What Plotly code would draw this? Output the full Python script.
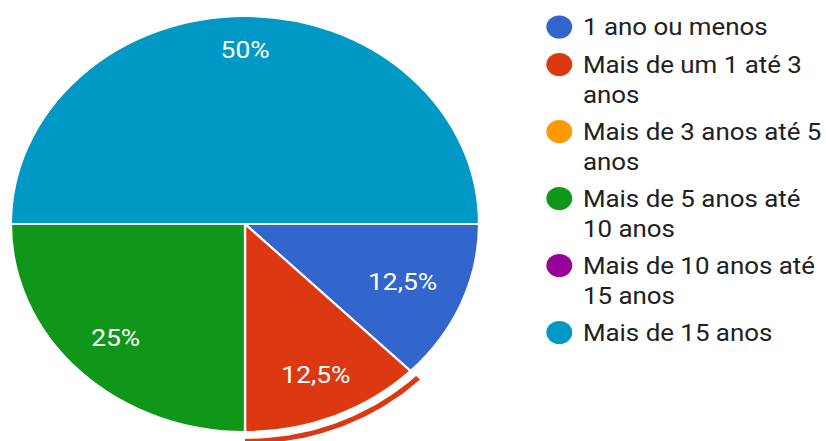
import math
import textwrap

import plotly.graph_objects as go

# Respostas: tempo de experiência
labels = [
    "1 ano ou menos",
    "Mais de um 1 até 3 anos",
    "Mais de 3 anos até 5 anos",
    "Mais de 5 anos até 10 anos",
    "Mais de 10 anos até 15 anos",
    "Mais de 15 anos",
]
counts = [1, 1, 0, 2, 0, 4]
colors = ["#3366cc", "#dc3912", "#ff9900", "#109618", "#990099", "#0099c6"]
selected = 1  # slice drawn with the selection ring

# Canvas: drawn at W x H, then stretched horizontally by SX in the page
W, H = 734, 441
SX = 826 / W
FONT = "Roboto"

# Pie geometry in pixels (y grows downwards)
cx, cy, R = 217.7, 224.0, 208.0
ring_in, ring_out = R + 7.0, R + 12.0
PIE_FONT = 23.5
LABEL_INSET = 25.0          # gap between a label's outer edge and the rim
LABEL_HALF_H = 8.5          # half the digit height of the slice labels
CHAR_EM = {",": 0.2, "%": 0.72}
LEGEND_FONT = 23

total = sum(counts)
fig = go.Figure()

fig.add_trace(go.Pie(
    values=counts,
    labels=labels,
    marker=dict(colors=colors, line=dict(color="white", width=2)),
    sort=False,
    direction="clockwise",
    rotation=90,
    textinfo="none",
    hoverinfo="label+percent",
    showlegend=False,
    domain=dict(x=[(cx - R) / W, (cx + R) / W],
                y=[(H - cy - R) / H, (H - cy + R) / H]),
))

# slice angles, clockwise from 3 o'clock
angles = []
acc = 0
for v in counts:
    a0 = 2 * math.pi * acc / total
    acc += v
    angles.append((a0, 2 * math.pi * acc / total))

# selection ring around the highlighted slice
a0, a1 = angles[selected]
n = 60
ts = [a0 + (a1 - a0) * i / n for i in range(n + 1)]
rx = [cx + ring_out * math.cos(t) for t in ts] + [cx + ring_in * math.cos(t) for t in reversed(ts)]
ry = [cy + ring_out * math.sin(t) for t in ts] + [cy + ring_in * math.sin(t) for t in reversed(ts)]
fig.add_trace(go.Scatter(
    x=rx, y=ry, mode="lines", fill="toself",
    fillcolor=colors[selected], line=dict(width=0, color=colors[selected]),
    hoverinfo="skip", showlegend=False,
))

annotations = []

# percentage labels: pushed out along the mid-angle until the text box
# sits LABEL_INSET pixels inside the rim
for v, (s0, s1) in zip(counts, angles):
    if v == 0:
        continue
    mid = (s0 + s1) / 2
    pct = f"{100 * v / total:g}%".replace(".", ",")
    half_w = sum(CHAR_EM.get(ch, 0.55) for ch in pct) * PIE_FONT / 2
    c, s = math.cos(mid), math.sin(mid)
    reach = abs(c) * half_w + abs(s) * LABEL_HALF_H
    r_lab = R - LABEL_INSET - reach
    annotations.append(dict(
        x=cx + r_lab * c, y=cy + r_lab * s,
        xref="x", yref="y", text=pct, showarrow=False,
        xanchor="center", yanchor="middle",
        font=dict(family=FONT, size=PIE_FONT, color="white"),
    ))

# legend: dots and wrapped labels
dot_x, text_x = 497.0, 516.0
line_h, item_gap = 29.5, 8.0
baseline = 35.0
dot_y = []
for lab in labels:
    lines = textwrap.wrap(lab, width=20)
    dot_y.append(baseline - 8.0)
    annotations.append(dict(
        x=text_x, y=baseline - LEGEND_FONT, xref="x", yref="y",
        text="<br>".join(lines), showarrow=False,
        xanchor="left", yanchor="top", align="left",
        font=dict(family=FONT, size=LEGEND_FONT, color="#212121"),
    ))
    baseline += len(lines) * line_h + item_gap

fig.add_trace(go.Scatter(
    x=[dot_x] * len(labels), y=dot_y, mode="markers",
    marker=dict(size=23, color=colors, line=dict(width=0)),
    hoverinfo="skip", showlegend=False,
))

fig.update_layout(
    width=W, height=H,
    margin=dict(l=0, r=0, t=0, b=0),
    paper_bgcolor="white", plot_bgcolor="white",
    separators=",.",
    font=dict(family=FONT),
    xaxis=dict(range=[0, W], visible=False, fixedrange=True),
    yaxis=dict(range=[H, 0], visible=False, fixedrange=True),
    annotations=annotations,
    showlegend=False,
)

post = (
    "var gd = document.getElementById('{plot_id}');"
    "document.documentElement.style.margin = '0';"
    "document.body.style.margin = '0';"
    "document.body.style.overflow = 'hidden';"
    "gd.style.transformOrigin = '0 0';"
    "gd.style.transform = 'scaleX(%.5f)';" % SX
)

fig.write_html("out.html", include_plotlyjs=True, full_html=True,
               post_script=post, config={"displayModeBar": False})
